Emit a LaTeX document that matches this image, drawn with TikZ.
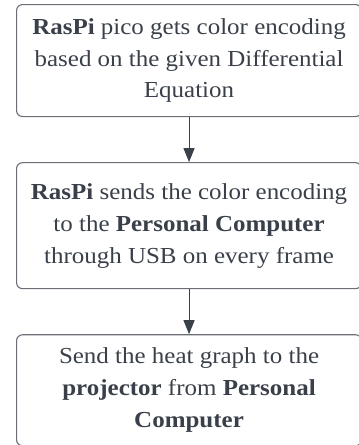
\documentclass[tikz,border=0pt]{standalone}
\usepackage{fontspec}
\setmainfont{Liberation Serif}[FakeStretch=1.09]
\usepackage{tikz}
\usetikzlibrary{arrows.meta,positioning}
\definecolor{boxline}{HTML}{6B6F75}
\definecolor{ink}{HTML}{3A4049}

\begin{document}
\begin{tikzpicture}[
  stepbox/.style={draw=boxline,line width=1.1bp,rounded corners=6bp,text=ink,
    align=center,minimum width=345bp,font=\fontsize{23}{32}\selectfont},
  flow/.style={draw=ink,line width=1.1bp,-{Triangle[length=14bp,width=11bp]}}]
  \useasboundingbox (0,0) rectangle (359bp,-445bp);
  % three steps, top to bottom
  \node[stepbox,minimum height=112bp,anchor=north west] (pico) at (16bp,-4bp)
    {\textbf{RasPi} pico gets color encoding\\based on the given Differential\\Equation};
  \node[stepbox,minimum height=126bp,below=45bp of pico] (usb)
    {\textbf{RasPi} sends the color encoding\\to the \textbf{Personal Computer}\\through USB on every frame};
  \node[stepbox,minimum height=111bp,below=45bp of usb] (proj)
    {Send the heat graph to the\\\textbf{projector} from \textbf{Personal}\\\textbf{Computer}};
  \draw[flow] (pico) -- (usb);
  \draw[flow] (usb) -- (proj);
\end{tikzpicture}
\end{document}
